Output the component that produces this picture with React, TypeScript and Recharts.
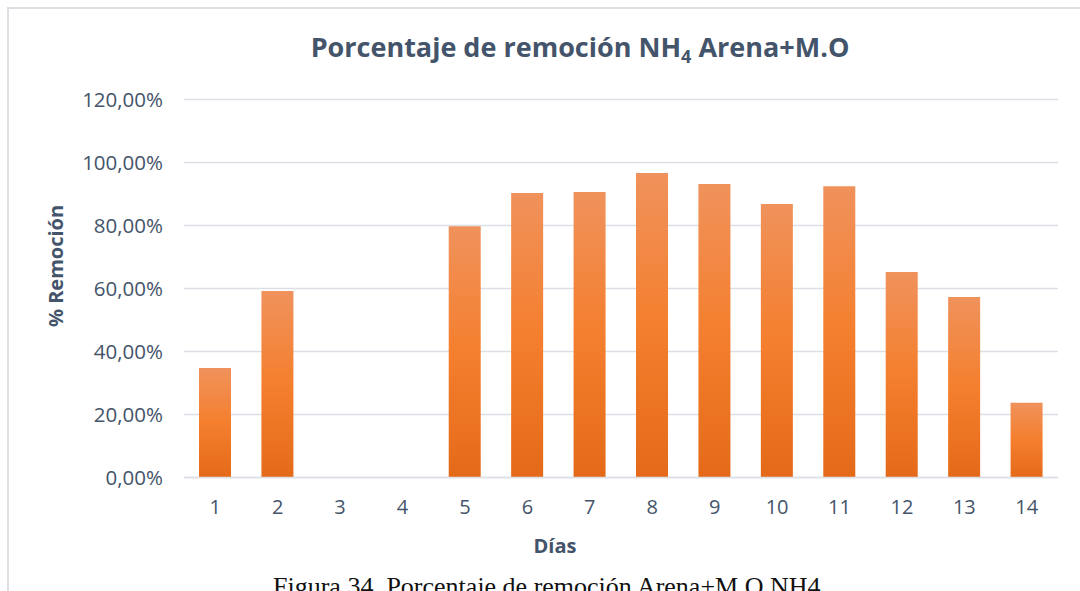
import { BarChart, Bar, XAxis, YAxis, CartesianGrid } from 'recharts';

const days = ['1', '2', '3', '4', '5', '6', '7', '8', '9', '10', '11', '12', '13', '14'];
const removal = [0.348, 0.592, 0, 0, 0.798, 0.903, 0.906, 0.967, 0.932, 0.868, 0.925, 0.652, 0.573, 0.237];
const yTicks = [0, 0.2, 0.4, 0.6, 0.8, 1.0, 1.2];

const data = days.map((d, i) => ({ day: d, value: removal[i] }));

const TEXT = '#44546A';
const GRID = '#DCE0E5';
const FONT = '"Open Sans", sans-serif';

const fmtPct = (v: number) => `${(v * 100).toFixed(2).replace('.', ',')}%`;

export default function App() {
  return (
    <div
      style={{
        position: 'absolute',
        left: 0,
        top: 0,
        width: 1080,
        height: 591,
        overflow: 'hidden',
        background: '#fff',
        fontFamily: FONT,
      }}
    >
      {/* chart frame (right/bottom edges are outside the picture) */}
      <div
        style={{
          position: 'absolute',
          left: 7,
          top: 7,
          width: 1100,
          height: 620,
          borderLeft: `2px solid ${GRID}`,
          borderTop: `2px solid ${GRID}`,
        }}
      />

      {/* title */}
      <div
        style={{
          position: 'absolute',
          left: 0,
          width: 1160,
          top: 30,
          textAlign: 'center',
          fontSize: 27,
          fontWeight: 700,
          color: TEXT,
          lineHeight: '34px',
        }}
      >
        Porcentaje de remoción NH<sub style={{ fontSize: 18, verticalAlign: -6 }}>4</sub> Arena+M.O
      </div>

      <div style={{ position: 'absolute', left: 0, top: 0 }}>
        <BarChart
          width={1080}
          height={591}
          data={data}
          margin={{ top: 99.5, right: 22, bottom: 63.5, left: 0 }}
        >
          <defs>
            <linearGradient id="barGrad" x1="0" y1="0" x2="0" y2="1">
              <stop offset="0%" stopColor="#F0925C" />
              <stop offset="50%" stopColor="#F47F2E" />
              <stop offset="100%" stopColor="#E46A19" />
            </linearGradient>
          </defs>
          <CartesianGrid vertical={false} stroke={GRID} strokeWidth={1.5} />
          <XAxis
            dataKey="day"
            height={50}
            axisLine={{ stroke: GRID, strokeWidth: 1.5 }}
            tickLine={false}
            tickSize={0}
            tickMargin={22}
            tick={{ fill: TEXT, fontSize: 20, fontFamily: FONT }}
          />
          <YAxis
            width={184}
            domain={[0, 1.2]}
            ticks={yTicks}
            axisLine={false}
            tickLine={false}
            tickSize={0}
            tickMargin={21}
            tickFormatter={fmtPct}
            tick={{ fill: TEXT, fontSize: 20.5, fontFamily: FONT }}
          />
          <Bar dataKey="value" barSize={32} fill="url(#barGrad)" isAnimationActive={false} />
        </BarChart>
      </div>

      {/* y axis title */}
      <div
        style={{
          position: 'absolute',
          left: 55,
          top: 266,
          transform: 'translate(-50%, -50%) rotate(-90deg)',
          fontSize: 20,
          fontWeight: 700,
          color: TEXT,
          whiteSpace: 'nowrap',
        }}
      >
        % Remoción
      </div>

      {/* x axis title */}
      <div
        style={{
          position: 'absolute',
          left: 555,
          top: 545,
          transform: 'translate(-50%, -50%)',
          fontSize: 20,
          fontWeight: 700,
          color: TEXT,
          whiteSpace: 'nowrap',
        }}
      >
        Días
      </div>

      {/* figure caption */}
      <div
        style={{
          position: 'absolute',
          left: 273,
          top: 573,
          fontFamily: '"Liberation Serif", "Times New Roman", serif',
          fontSize: 26,
          color: '#111',
          whiteSpace: 'nowrap',
          lineHeight: '28px',
        }}
      >
        Figura 34. Porcentaje de remoción Arena+M.O NH4
      </div>
    </div>
  );
}
